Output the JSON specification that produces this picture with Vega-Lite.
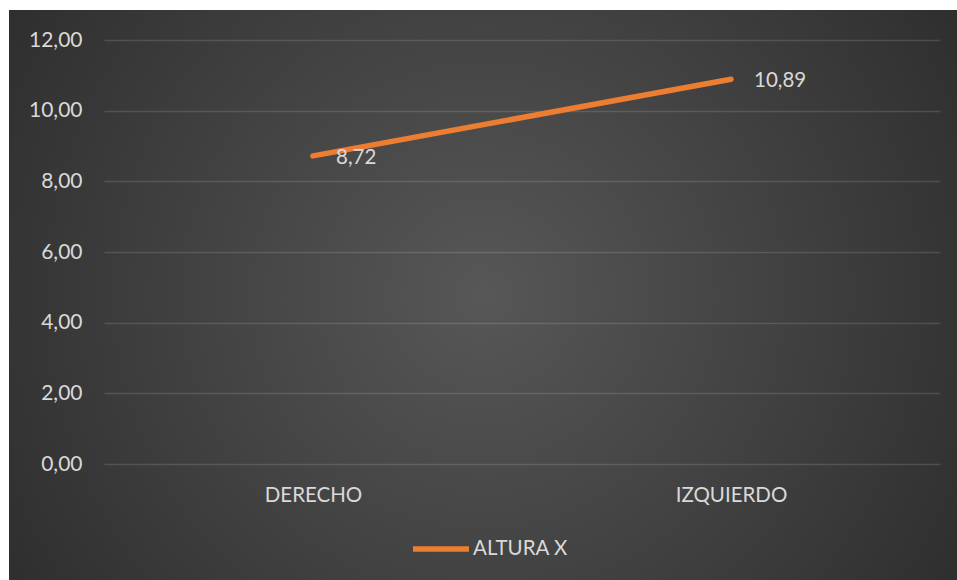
{
  "$schema": "https://vega.github.io/schema/vega-lite/v6.json",
  "width": 948,
  "height": 570,
  "autosize": {"type": "none"},
  "padding": {"left": 9, "top": 10, "right": 0, "bottom": 0},
  "background": "#ffffff",
  "config": {
    "locale": {"number": {"decimal": ",", "thousands": ".", "grouping": [3], "currency": ["", " €"]}},
    "view": {
      "stroke": null,
      "fill": {
        "gradient": "radial",
        "x1": 0.5, "y1": 0.5, "r1": 0,
        "x2": 0.5, "y2": 0.5, "r2": 0.72,
        "stops": [
          {"offset": 0, "color": "#575757"},
          {"offset": 1, "color": "#252525"}
        ]
      }
    },
    "font": "Lato"
  },
  "data": {
    "values": [
      {"lado": "DERECHO", "altura": 8.72, "serie": "ALTURA X"},
      {"lado": "IZQUIERDO", "altura": 10.89, "serie": "ALTURA X"}
    ]
  },
  "encoding": {
    "x": {
      "field": "lado",
      "type": "nominal",
      "sort": null,
      "scale": {"type": "point", "range": [95, 931], "padding": 0.5},
      "axis": {
        "title": null,
        "orient": "bottom",
        "offset": -116,
        "domain": false,
        "ticks": false,
        "grid": false,
        "labelAngle": 0,
        "labelPadding": 21,
        "labelFontSize": 20.5,
        "labelColor": "#d9d9d9",
        "labelFont": "Lato"
      }
    },
    "y": {
      "field": "altura",
      "type": "quantitative",
      "scale": {"domain": [0, 12], "range": [454, 30], "nice": false, "zero": true},
      "axis": {
        "title": null,
        "orient": "left",
        "offset": -81,
        "values": [0, 2, 4, 6, 8, 10, 12],
        "format": ".2f",
        "domain": false,
        "ticks": false,
        "grid": true,
        "gridColor": "#ffffff",
        "gridOpacity": 0.13,
        "gridWidth": 1.5,
        "labelPadding": 8,
        "labelFontSize": 21,
        "labelColor": "#d9d9d9",
        "labelFont": "Lato"
      }
    }
  },
  "layer": [
    {
      "mark": {"type": "line", "strokeWidth": 5.5, "strokeCap": "round"},
      "encoding": {
        "color": {
          "field": "serie",
          "type": "nominal",
          "scale": {"range": ["#ED7D31"]},
          "legend": {
            "title": null,
            "orient": "none",
            "legendX": 401,
            "legendY": 508,
            "padding": 0,
            "symbolType": "stroke",
            "symbolSize": 3136,
            "symbolStrokeWidth": 5.5,
            "labelFontSize": 20.5,
            "labelColor": "#d9d9d9",
            "labelFont": "Lato",
            "labelOffset": 1
          }
        }
      }
    },
    {
      "mark": {"type": "text", "align": "left", "baseline": "middle", "dx": 23, "dy": 2, "fontSize": 20.5, "color": "#d9d9d9", "font": "Lato"},
      "encoding": {
        "text": {"field": "altura", "type": "quantitative", "format": ".2f"}
      }
    }
  ]
}
